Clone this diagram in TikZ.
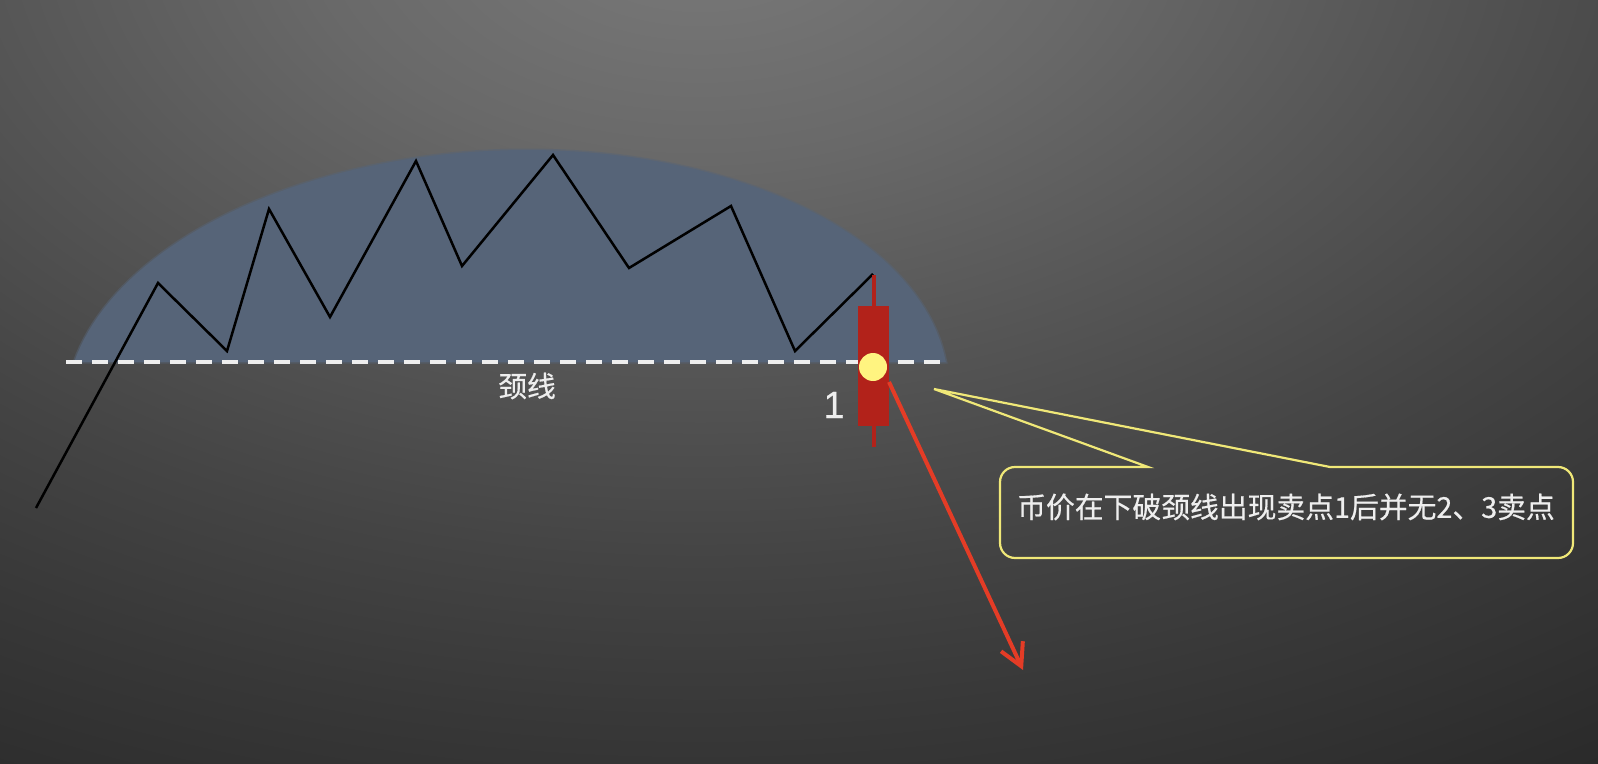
\documentclass[tikz,border=0pt]{standalone}
\usepackage{fontspec}
\newfontfamily\cjk[FakeBold=0.5]{Noto Sans CJK SC}
\newfontfamily\lsans[FakeBold=0.4]{Liberation Sans}
\usetikzlibrary{arrows.meta}
\definecolor{bgA}{RGB}{122,122,122}
\definecolor{bgB}{RGB}{105,105,105}
\definecolor{bgC}{RGB}{86,86,86}
\definecolor{bgD}{RGB}{68,68,68}
\definecolor{bgE}{RGB}{56,56,56}
\definecolor{bgF}{RGB}{40,40,40}
\definecolor{domec}{RGB}{86,100,120}
\definecolor{candlec}{RGB}{178,34,26}
\definecolor{sigc}{RGB}{255,244,128}
\definecolor{arrowc}{RGB}{228,60,38}
\definecolor{calloutc}{RGB}{240,232,120}
\definecolor{neckc}{RGB}{238,238,238}
\definecolor{textc}{RGB}{238,238,238}
\pgfdeclareradialshading{bgshade}{\pgfpoint{0bp}{0bp}}{color(0bp)=(bgA); color(5.77bp)=(bgB); color(10.6bp)=(bgC); color(15.4bp)=(bgD); color(19.2bp)=(bgE); color(25bp)=(bgF); color(50bp)=(bgF)}
\tikzset{
  neckline/.style={draw=neckc, line width=2.4pt, dash pattern=on 7.8pt off 5.2pt},
  price/.style={draw=black, line width=1.25pt, line join=miter},
  candlebody/.style={fill=candlec, minimum width=15.5pt, minimum height=60pt, inner sep=0pt},
  wick/.style={draw=candlec, line width=2pt},
  sigdot/.style={circle, fill=sigc, minimum size=14pt, inner sep=0pt},
  downarrow/.style={draw=arrowc, line width=2pt, -{Straight Barb[length=11pt,width=12pt]}},
  calloutbox/.style={draw=calloutc, line width=1.1pt},
  lbl/.style={text=textc, inner sep=0pt, font=\cjk\fontsize{14.4}{17}\selectfont},
}
\begin{document}
\begin{tikzpicture}[x=0.5pt,y=-0.5pt]
\useasboundingbox (0,0) rectangle (1598,764);
\fill[bgF] (0,0) rectangle (1598,764);
\begin{scope}
\clip (0,0) rectangle (1598,764);
\shade[shading=bgshade] (700,-80) ellipse [x radius=1690, y radius=1040];
\end{scope}
% dome
\path[fill=domec, draw=domec, draw opacity=0.5, line width=1.5pt]
  plot[domain=8.74:171.26, samples=90, variable=\t]
  ({510 + 441*cos(\t) + 0.08*(250*sin(\t)-38)}, {400 - 250*sin(\t)}) -- cycle;
% neckline
\coordinate (n1) at (66,362);
\coordinate (n2) at (946,362);
\draw[neckline] (n1) -- (n2);
\node[lbl] (necklabel) at (527,386) {颈线};
% price path
\draw[price] (36,508) -- (158,283) -- (227,351) -- (269,209) -- (330,317) -- (416,161) -- (462,266) -- (553,155) -- (629,268) -- (731,206) -- (795,351) -- (873,274);
% candle
\coordinate (w1) at (874,275);
\coordinate (w2) at (874,447);
\draw[wick] (w1) -- (w2);
\node[candlebody] (body) at (873.5,366) {};
\node[sigdot] (sig) at (873,367) {};
\node[text=textc, inner sep=0pt, font=\lsans\fontsize{19}{22}\selectfont] (one) at (834,405) {1};
% red arrow
\coordinate (a0) at (889,382);
\coordinate (a1) at (1023,670);
\draw[downarrow] (a0) -- (a1);
% callout
\coordinate (tip) at (934,389);
\draw[calloutbox] (1148,467) -- (tip) -- (1330,467) [rounded corners=7.5pt] -- (1573,467) -- (1573,558) -- (1000,558) -- (1000,467) [sharp corners] -- cycle;
\node[lbl] (ctext) at (1286,507) {币价在下破颈线出现卖点1后并无2、3卖点};
\end{tikzpicture}
\end{document}
